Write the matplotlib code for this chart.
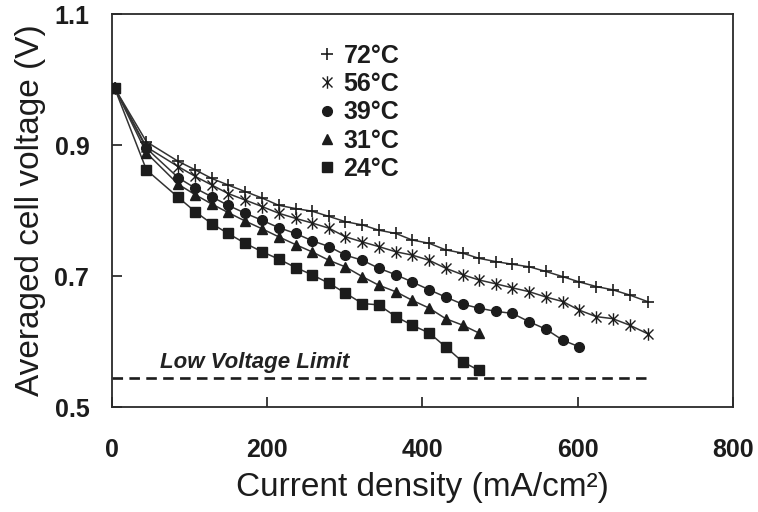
import matplotlib.pyplot as plt
from matplotlib.path import Path

plt.rcParams['font.family'] = ['Liberation Sans', 'DejaVu Sans']

# current density (mA/cm2)
current = [4, 45, 86, 108, 129, 150, 172, 194, 215, 237, 258, 280, 301, 323, 344, 366,
           387, 409, 430, 452, 473, 495, 516, 538, 559, 581, 602, 624, 645, 667, 690]

v_72 = [0.987, 0.905, 0.875, 0.862, 0.849, 0.839, 0.829, 0.819, 0.808, 0.803, 0.799,
        0.791, 0.783, 0.778, 0.770, 0.765, 0.755, 0.750, 0.740, 0.735, 0.727, 0.722,
        0.718, 0.714, 0.707, 0.699, 0.691, 0.684, 0.679, 0.671, 0.661]
v_56 = [0.987, 0.897, 0.867, 0.852, 0.839, 0.826, 0.816, 0.806, 0.796, 0.788, 0.781,
        0.773, 0.760, 0.752, 0.745, 0.737, 0.732, 0.724, 0.712, 0.702, 0.694, 0.688,
        0.682, 0.676, 0.668, 0.661, 0.648, 0.638, 0.635, 0.625, 0.612]
v_39 = [0.987, 0.895, 0.850, 0.834, 0.821, 0.808, 0.796, 0.785, 0.774, 0.765, 0.754,
        0.745, 0.732, 0.724, 0.712, 0.702, 0.691, 0.679, 0.668, 0.657, 0.651, 0.646,
        0.643, 0.630, 0.619, 0.602, 0.592]
v_31 = [0.987, 0.888, 0.840, 0.824, 0.810, 0.797, 0.784, 0.772, 0.760, 0.748, 0.737,
        0.724, 0.714, 0.699, 0.686, 0.676, 0.663, 0.651, 0.635, 0.625, 0.613]
v_24 = [0.987, 0.862, 0.820, 0.798, 0.780, 0.765, 0.750, 0.737, 0.726, 0.713, 0.702,
        0.689, 0.674, 0.658, 0.656, 0.638, 0.625, 0.613, 0.592, 0.569, 0.556]

labels = ['72°C', '56°C', '39°C', '31°C', '24°C']

limit_x = [0, 688]
limit_v = [0.545, 0.545]

# excel style "star" marker: an x with a vertical bar
star = Path([(-1, -1), (1, 1), (-1, 1), (1, -1), (0, -1.25), (0, 1.25)],
            [Path.MOVETO, Path.LINETO, Path.MOVETO, Path.LINETO, Path.MOVETO, Path.LINETO])

fig = plt.figure(figsize=(7.58, 5.12), dpi=100)
ax = fig.add_axes([0.1471, 0.205, 0.8199, 0.7676])

ink = '#1c1c1c'
series = [
    (v_72, '+', 9, 1.2),
    (v_56, star, 9, 1.0),
    (v_39, 'o', 7, 1.0),
    (v_31, '^', 7, 1.0),
    (v_24, 's', 6.5, 1.0),
]
handles = []
for (v, m, ms, mew), lab in zip(series, labels):
    x = current[:len(v)]
    ax.plot(x, v, color='#333333', lw=1.1, zorder=2)
    pts, = ax.plot(x, v, ls='none', marker=m, ms=ms, mew=mew, color=ink,
                   mfc=ink, mec=ink, zorder=3, label=lab)
    handles.append(pts)

ax.plot(limit_x, limit_v, color=ink, lw=1.9, dashes=(4, 2.4), zorder=1)
ax.text(62, 0.5595, 'Low Voltage Limit', fontsize=16, style='italic',
        fontweight='bold', color='#222222', va='baseline')

ax.set_xlim(0, 800)
ax.set_ylim(0.5, 1.1)
ax.set_xticks([0, 200, 400, 600, 800])
ax.set_yticks([0.5, 0.7, 0.9, 1.1])
ax.tick_params(direction='in', length=7, width=1.2, colors=ink)
ax.tick_params(axis='x', pad=22, labelsize=18)
ax.tick_params(axis='y', pad=16, labelsize=18)
for t in ax.get_xticklabels() + ax.get_yticklabels():
    t.set_fontweight('bold')
for s in ax.spines.values():
    s.set_linewidth(1.3)
    s.set_color('#2a2a2a')

ax.set_xlabel('Current density (mA/cm²)', fontsize=24, color=ink)
ax.set_ylabel('Averaged cell voltage (V)', fontsize=24, color=ink)
ax.xaxis.set_label_coords(0.5, -0.165)
ax.yaxis.set_label_coords(-0.105, 0.5)

leg = ax.legend(handles=handles, loc='upper left', bbox_to_anchor=(0.327, 0.924),
                frameon=False, fontsize=18, handlelength=1.0, handletextpad=0.15,
                labelspacing=0.17, borderpad=0, borderaxespad=0)
for t in leg.get_texts():
    t.set_fontweight('bold')
    t.set_color(ink)

plt.savefig('out.png', dpi=100)
